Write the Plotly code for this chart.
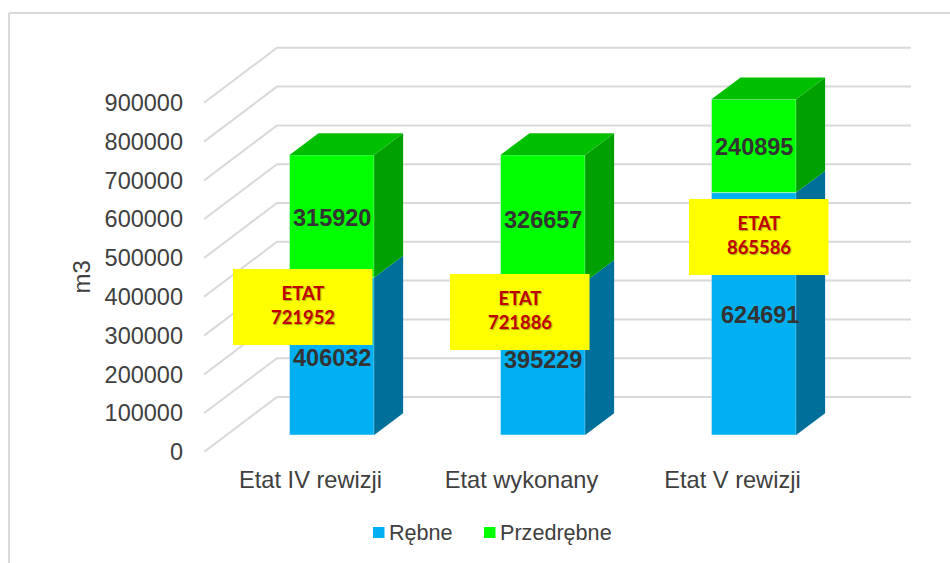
import plotly.graph_objects as go

categories = ["Etat IV rewizji", "Etat wykonany", "Etat V rewizji"]
rebne = [406032, 395229, 624691]
przedrebne = [315920, 326657, 240895]
etat = [721952, 721886, 865586]
y_ticks = [0, 100000, 200000, 300000, 400000, 500000, 600000, 700000, 800000, 900000]

FONT = "Liberation Sans"
TEXT = "#404040"
BLUE, BLUE_SIDE = "#00B0F0", "#006F99"
GREEN, GREEN_SIDE, GREEN_TOP = "#00FF00", "#00A000", "#00BE00"

# pixel layout of the plot area, everything else is derived from it
LEFT, FLOOR = 204, 452
PX_PER_CAT = 211
PX_PER_UNIT = 0.000388
X_START = (204 - 310.5) / PX_PER_CAT

# fake 3d: offsets of the bar plane and the back wall, in axis units
BAR_BASE = 17 / PX_PER_UNIT
BAR_SHIFT = 0.101
BAR_WIDTH = 0.401
DEPTH_X = 29 / PX_PER_CAT
DEPTH_Y = 21.7 / PX_PER_UNIT
WALL_X = 73 / PX_PER_CAT
WALL_Y = 55 / PX_PER_UNIT
WALL_END = (911 - 310.5) / PX_PER_CAT


def paper_x(px):
    return (px - LEFT) / (950 - LEFT)


def paper_y(px):
    return (FLOOR - px) / FLOOR


def face(xs, ys, color):
    return go.Scatter(
        x=xs,
        y=ys,
        fill="toself",
        fillcolor=color,
        mode="lines",
        line=dict(width=0),
        showlegend=False,
        hoverinfo="skip",
    )


def paper_text(px, py, text, **kwargs):
    fig.add_annotation(
        xref="paper",
        yref="paper",
        x=paper_x(px),
        y=paper_y(py),
        text=text,
        showarrow=False,
        **kwargs,
    )


def paper_rect(x0, y0, x1, y1, color):
    fig.add_shape(
        type="rect",
        xref="paper",
        yref="paper",
        x0=paper_x(x0),
        x1=paper_x(x1),
        y0=paper_y(y0),
        y1=paper_y(y1),
        fillcolor=color,
        line_width=0,
        layer="above",
    )


bar_x = [i + BAR_SHIFT for i in range(len(categories))]
fig = go.Figure()

# side and top faces first
for x, low, high in zip(bar_x, rebne, przedrebne):
    right = x + BAR_WIDTH / 2
    left = x - BAR_WIDTH / 2
    y0 = BAR_BASE
    y1 = y0 + low
    y2 = y1 + high
    side_x = [right, right + DEPTH_X, right + DEPTH_X, right]
    fig.add_trace(face(side_x, [y0, y0 + DEPTH_Y, y1 + DEPTH_Y, y1], BLUE_SIDE))
    fig.add_trace(face(side_x, [y1, y1 + DEPTH_Y, y2 + DEPTH_Y, y2], GREEN_SIDE))
    fig.add_trace(
        face(
            [left, left + DEPTH_X, right + DEPTH_X, right],
            [y2, y2 + DEPTH_Y, y2 + DEPTH_Y, y2],
            GREEN_TOP,
        )
    )

fig.add_trace(
    go.Bar(name="Rębne", x=bar_x, y=rebne, base=BAR_BASE, width=BAR_WIDTH, marker_color=BLUE)
)
fig.add_trace(
    go.Bar(
        name="Przedrębne",
        x=bar_x,
        y=przedrebne,
        base=[BAR_BASE + v for v in rebne],
        width=BAR_WIDTH,
        marker_color=GREEN,
    )
)

# slanted gridlines on the floor edge and back wall
for tick in y_ticks:
    fig.add_shape(
        type="path",
        path=f"M {X_START} {tick} L {X_START + WALL_X} {tick + WALL_Y} L {WALL_END} {tick + WALL_Y}",
        line=dict(color="#D9D9D9", width=2),
        layer="below",
    )

# chart frame
for x0, y0, x1, y1 in [(9, 13, 950, 13), (9, 13, 9, 563)]:
    fig.add_shape(
        type="line",
        xref="paper",
        yref="paper",
        x0=paper_x(x0),
        x1=paper_x(x1),
        y0=paper_y(y0),
        y1=paper_y(y1),
        line=dict(color="#D9D9D9", width=2),
    )

# data labels
for i, x in enumerate(bar_x):
    for value, mid in [
        (rebne[i], BAR_BASE + rebne[i] / 2),
        (przedrebne[i], BAR_BASE + rebne[i] + przedrebne[i] / 2),
    ]:
        fig.add_annotation(
            x=x,
            y=mid,
            text=str(value),
            showarrow=False,
            xanchor="center",
            yanchor="middle",
            xshift=6 if value == 624691 else 0,
            yshift=-1.5,
            font=dict(family=FONT, size=23.5, color="#333333", weight="bold"),
        )

# yellow ETAT boxes
for total, (bx, by) in zip(etat, [(233, 269), (450, 274), (689, 199)]):
    paper_rect(bx, by, bx + 139.5, by + 76, "#FFFF00")
    paper_text(
        bx + 69.5,
        by + 35.5,
        f"ETAT<br>{total}",
        align="center",
        xanchor="center",
        yanchor="middle",
        font=dict(
            family="Lato",
            size=18.4,
            color="#C00000",
            weight="bold",
            shadow="1px 1px 1px rgba(0,0,0,0.35)",
        ),
    )

paper_text(
    80.5,
    277,
    "m3",
    textangle=-90,
    xanchor="center",
    yanchor="middle",
    font=dict(family=FONT, size=24, color=TEXT),
)

# legend, drawn by hand because the native swatch gap is too wide here
for name, color, swatch_x in [("Rębne", BLUE, 373), ("Przedrębne", GREEN, 484)]:
    paper_rect(swatch_x, 527, swatch_x + 11.5, 538, color)
    paper_text(
        swatch_x + 13.5,
        532.5,
        name,
        xanchor="left",
        yanchor="middle",
        font=dict(family=FONT, size=21.6, color=TEXT),
    )

fig.update_layout(
    width=950,
    height=563,
    margin=dict(l=LEFT, r=0, t=0, b=563 - FLOOR, pad=0),
    paper_bgcolor="white",
    plot_bgcolor="rgba(0,0,0,0)",
    barmode="overlay",
    showlegend=False,
    font=dict(family=FONT, color=TEXT),
)
fig.update_xaxes(
    range=[X_START, X_START + (950 - LEFT) / PX_PER_CAT],
    tickmode="array",
    tickvals=list(range(len(categories))),
    ticktext=categories,
    tickfont=dict(size=23.6, color=TEXT),
    ticks="",
    ticklabelstandoff=11,
    showgrid=False,
    zeroline=False,
    showline=False,
)
fig.update_yaxes(
    range=[0, FLOOR / PX_PER_UNIT],
    tickmode="array",
    tickvals=y_ticks,
    tickformat="d",
    tickfont=dict(size=23.5, color=TEXT),
    ticks="",
    ticklabelstandoff=20,
    showgrid=False,
    zeroline=False,
    showline=False,
)

fig.write_html(
    "out.html",
    config=dict(displayModeBar=False),
    post_script="document.body.style.margin='0';",
)
